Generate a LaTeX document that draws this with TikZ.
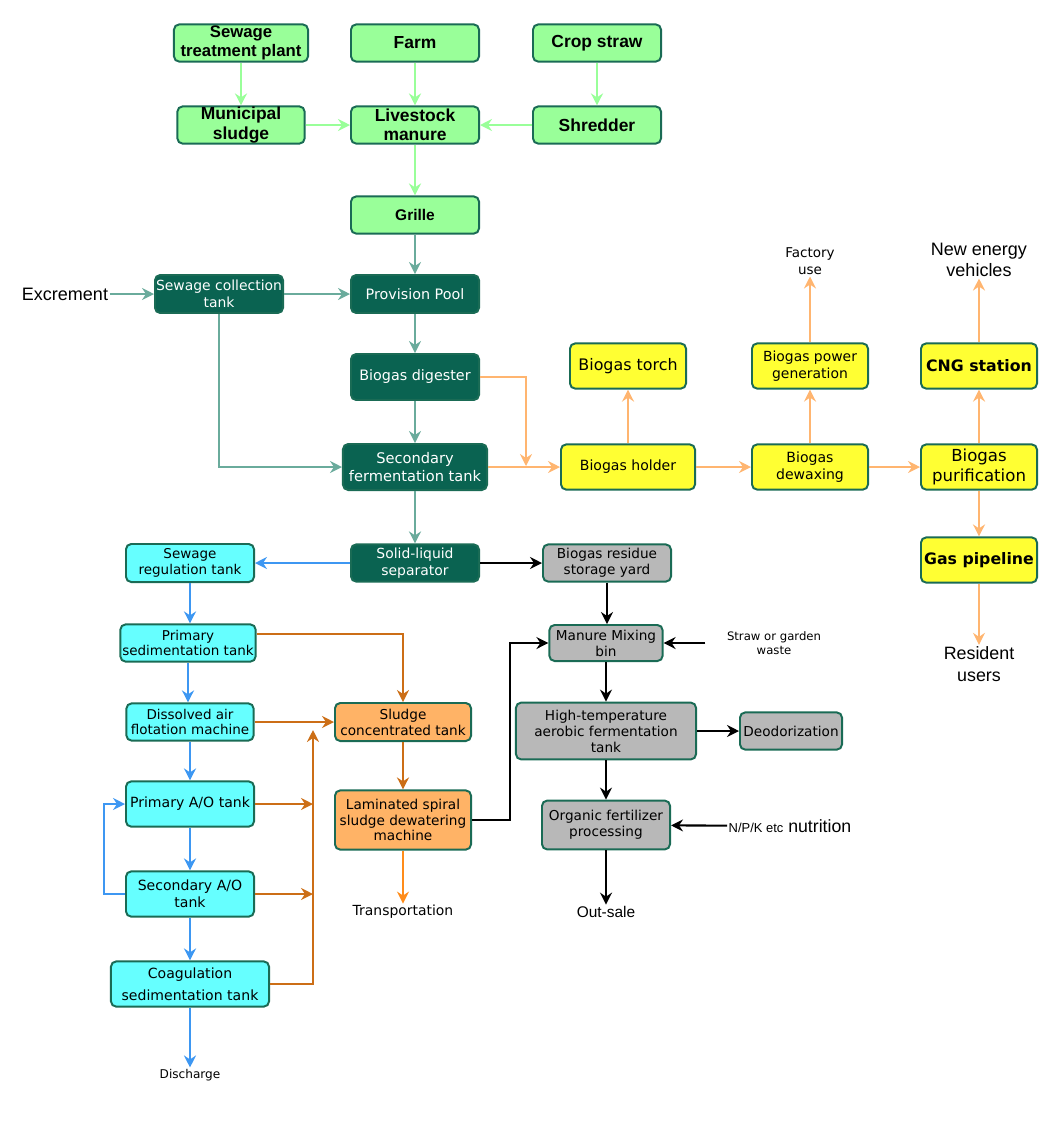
\documentclass[tikz,border=0pt]{standalone}
\usepackage{fontspec}
\setmainfont{DejaVu Sans}
\newfontfamily\arialfont{Liberation Sans}
\usetikzlibrary{arrows.meta, positioning}

\definecolor{boxedge}{HTML}{1A6B55}
\definecolor{lgreen}{HTML}{99FF99}
\definecolor{dgreen}{HTML}{0A6351}
\definecolor{tealline}{HTML}{6AAB9C}
\definecolor{byellow}{HTML}{FFFF33}
\definecolor{lorange}{HTML}{FFB570}
\definecolor{lgray}{HTML}{B8B8B8}
\definecolor{lcyan}{HTML}{66FFFF}
\definecolor{lblue}{HTML}{3D97F2}
\definecolor{sorange}{HTML}{FFB366}
\definecolor{dorange}{HTML}{CC6E16}
\definecolor{borange}{HTML}{FF8C1A}

\begin{document}
\begin{tikzpicture}[
  x=0.025cm, y=-0.025cm,
  box/.style={draw=boxedge, line width=1.4pt, rounded corners=1.3mm, align=center, inner sep=0pt, minimum width=3.2cm, minimum height=0.93cm},
  greenbox/.style={box, fill=lgreen, font=\arialfont\bfseries\fontsize{12.4}{13.6}\selectfont},
  darkbox/.style={box, fill=dgreen, text=white, font=\fontsize{9.9}{11.8}\selectfont},
  yellowbox/.style={box, fill=byellow, minimum width=2.9cm, minimum height=1.13cm, font=\fontsize{10}{12.3}\selectfont},
  graybox/.style={box, fill=lgray, font=\fontsize{9.7}{11.4}\selectfont},
  cyanbox/.style={box, fill=lcyan, font=\fontsize{9.6}{11.3}\selectfont},
  orangebox/.style={box, fill=sorange, minimum width=3.4cm, font=\fontsize{9.7}{11.3}\selectfont},
  label/.style={align=center, inner sep=1pt},
  arrow/.style={-{Stealth[length=3mm, width=3mm, inset=1mm]}, line width=1.5pt},
  garrow/.style={arrow, draw=lgreen},
  tarrow/.style={arrow, draw=tealline},
  oarrow/.style={arrow, draw=lorange},
  barrow/.style={arrow, draw=black},
  carrow/.style={arrow, draw=lblue},
  sarrow/.style={arrow, draw=dorange}
]
\useasboundingbox (0,0) rectangle (1060,1121);

% raw material intake
\node[greenbox, minimum width=3.35cm, font=\arialfont\bfseries\fontsize{11.9}{13.4}\selectfont] (stp) at (241,43) {Sewage\\treatment plant};
\node[greenbox] (farm) at (415,43) {Farm};
\node[greenbox] (straw) at (597,43) {Crop straw};
\node[greenbox, minimum width=3.18cm] (msludge) at (241,125) {Municipal\\sludge};
\node[greenbox] (manure) at (415,125) {Livestock\\manure};
\node[greenbox] (shred) at (597,125) {Shredder};
\node[greenbox, font=\arialfont\bfseries\fontsize{11}{12}\selectfont] (grille) at (415,215) {Grille};

% pretreatment and digestion
\node[label, font=\arialfont\fontsize{12.8}{14}\selectfont] (excr) at (65,294) {Excrement};
\node[darkbox, minimum height=0.95cm] (sct) at (219,294) {Sewage collection\\tank};
\node[darkbox, minimum height=0.95cm, font=\fontsize{10.2}{12}\selectfont] (ppool) at (415,294) {Provision Pool};
\node[darkbox, minimum height=1.15cm, font=\fontsize{10.2}{12}\selectfont] (digest) at (415,377) {Biogas digester};
\node[darkbox, minimum width=3.6cm, minimum height=1.15cm, font=\fontsize{10.4}{12.6}\selectfont] (sft) at (415,467) {Secondary\\fermentation tank};
\node[darkbox, minimum height=0.93cm] (sls) at (415,563) {Solid-liquid\\separator};

% biogas utilisation
\node[yellowbox, font=\fontsize{11.3}{13}\selectfont] (torch) at (628,366) {Biogas torch};
\node[yellowbox, minimum width=3.35cm] (holder) at (628,467) {Biogas holder};
\node[yellowbox, font=\fontsize{9.9}{12}\selectfont] (power) at (810,366) {Biogas power\\generation};
\node[yellowbox, font=\fontsize{10}{12.4}\selectfont] (dewax) at (810,467) {Biogas\\dewaxing};
\node[yellowbox, font=\bfseries\fontsize{11.2}{13}\selectfont] (cng) at (979,366) {CNG station};
\node[yellowbox, font=\fontsize{11.8}{14.2}\selectfont] (purif) at (979,467) {Biogas\\purification};
\node[yellowbox, font=\bfseries\fontsize{11.2}{13}\selectfont] (pipe) at (979,560) {Gas pipeline};
\node[label, font=\fontsize{9.6}{12.5}\selectfont] (factory) at (810,261) {Factory\\use};
\node[label, font=\arialfont\fontsize{12.8}{15}\selectfont] (nev) at (979,260) {New energy\\vehicles};
\node[label, font=\arialfont\fontsize{12.7}{15.5}\selectfont] (resident) at (979,664) {Resident\\users};

% composting line
\node[graybox] (resid) at (607,563) {Biogas residue\\storage yard};
\node[graybox, minimum width=2.83cm, minimum height=0.9cm] (mix) at (606,643) {Manure Mixing\\bin};
\node[graybox, minimum width=4.5cm, minimum height=1.42cm] (htf) at (606,731) {High-temperature\\aerobic fermentation\\tank};
\node[graybox, minimum width=2.55cm] (deo) at (791,731) {Deodorization};
\node[graybox, minimum height=1.22cm] (org) at (606,825) {Organic fertilizer\\processing};
\node[label, font=\fontsize{8.3}{10}\selectfont] (strawin) at (774,643) {Straw or garden\\waste};
\node[label, anchor=west, font=\arialfont\fontsize{12.6}{14}\selectfont] (npk) at (727,826) {{\fontsize{9.2}{11}\selectfont N/P/K etc} nutrition};
\node[label, font=\arialfont\fontsize{11}{13}\selectfont] (outsale) at (606,912) {Out-sale};

% sewage treatment line
\node[cyanbox, minimum height=0.95cm] (sreg) at (190,563) {Sewage\\regulation tank};
\node[cyanbox, minimum width=3.38cm] (psed) at (188,643) {Primary\\sedimentation tank};
\node[cyanbox, minimum width=3.18cm] (daf) at (190,722) {Dissolved air\\flotation machine};
\node[cyanbox, minimum height=1.13cm, font=\fontsize{10}{12}\selectfont] (pao) at (190,804) {Primary A/O tank};
\node[cyanbox, minimum height=1.13cm, font=\fontsize{10}{12.4}\selectfont] (sao) at (190,894) {Secondary A/O\\tank};
\node[cyanbox, minimum width=3.95cm, minimum height=1.13cm, font=\fontsize{10}{15.8}\selectfont] (coag) at (190,984) {Coagulation\\sedimentation tank};
\node[label, font=\fontsize{8.6}{10}\selectfont] (discharge) at (190,1075) {Discharge};

% sludge line
\node[orangebox, minimum height=0.95cm] (sconc) at (403,722) {Sludge\\concentrated tank};
\node[orangebox, minimum height=1.48cm] (lam) at (403,820) {Laminated spiral\\sludge dewatering\\machine};
\node[label, font=\fontsize{9.9}{12}\selectfont] (transport) at (403,912) {Transportation};

\coordinate (gasjoin) at (526,466);
\coordinate (collect) at (313,730);
\coordinate (loop) at (104,894);
\coordinate (solidup) at (510,820);

% connectors
\draw[garrow] (stp) -- (msludge);
\draw[garrow] (farm) -- (manure);
\draw[garrow] (straw) -- (shred);
\draw[garrow] (msludge) -- (manure);
\draw[garrow] (shred) -- (manure);
\draw[garrow] (manure) -- (grille);

\draw[tarrow] (grille) -- (ppool);
\draw[tarrow] (excr) -- (sct);
\draw[tarrow] (sct) -- (ppool);
\draw[tarrow] (ppool) -- (digest);
\draw[tarrow] (digest) -- (sft);
\draw[tarrow] (sct.south) |- (sft.west);
\draw[tarrow] (sft) -- (sls);

\draw[oarrow] (digest.east) -| (gasjoin);
\draw[oarrow] (sft) -- (holder);
\draw[oarrow] (holder) -- (torch);
\draw[oarrow] (holder) -- (dewax);
\draw[oarrow] (dewax) -- (power);
\draw[oarrow] (power) -- (factory);
\draw[oarrow] (dewax) -- (purif);
\draw[oarrow] (purif) -- (cng);
\draw[oarrow] (cng) -- (nev);
\draw[oarrow] (purif) -- (pipe);
\draw[oarrow] (pipe) -- (resident);

\draw[barrow] (sls) -- (resid);
\draw[barrow] (resid) -- (resid |- mix.north);
\draw[barrow] (strawin.west) ++(-20,0) -- (mix.east);
\draw[barrow] (mix) -- (htf);
\draw[barrow] (htf) -- (deo);
\draw[barrow] (htf) -- (org);
\draw[barrow] (npk) -- (org);
\draw[barrow] (org) -- (outsale);
\draw[barrow] (lam.east) -- (solidup) |- (mix.west);

\draw[carrow] (sls) -- (sreg);
\draw[carrow] (sreg) -- (sreg |- psed.north);
\draw[carrow] (psed) -- (psed |- daf.north);
\draw[carrow] (daf) -- (pao);
\draw[carrow] (pao) -- (sao);
\draw[carrow] (sao) -- (coag);
\draw[carrow] (coag) -- (discharge);
\draw[carrow] (sao.west) -- (loop) |- (pao.west);

\draw[sarrow] (psed.east |- 0,634) -| (sconc.north);
\draw[sarrow] (daf) -- (sconc);
\draw[sarrow] (pao.east) -- (pao.east -| collect);
\draw[sarrow] (sao.east) -- (sao.east -| collect);
\draw[sarrow] (coag.east) -| (collect);
\draw[sarrow] (sconc) -- (lam);
\draw[arrow, draw=borange] (lam) -- (transport);
\end{tikzpicture}
\end{document}
